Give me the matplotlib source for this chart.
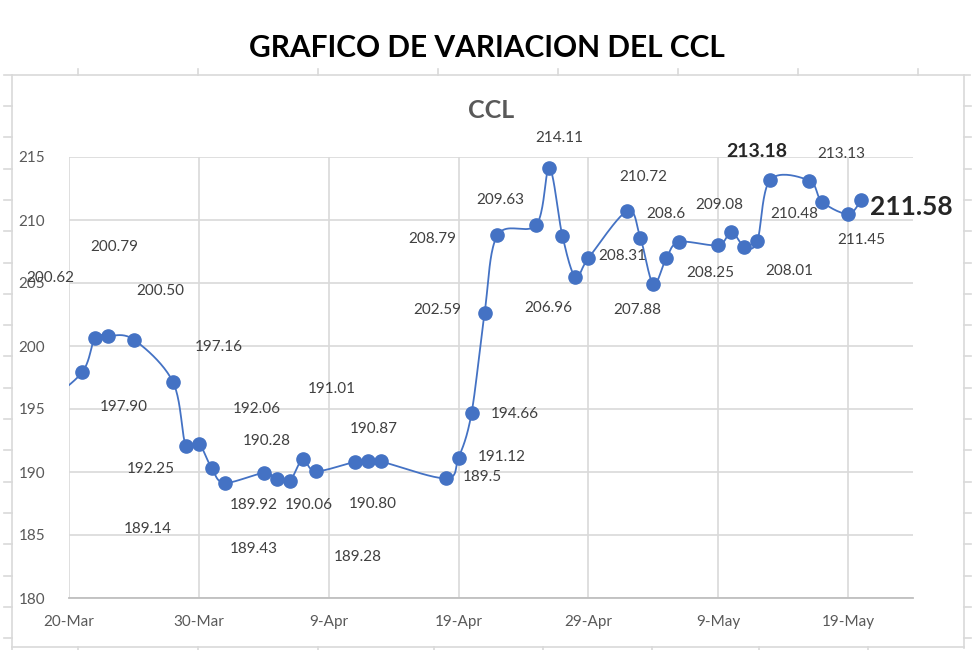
import numpy as np
import pandas as pd
import matplotlib
matplotlib.use("Agg")
import matplotlib.pyplot as plt
import matplotlib.dates as mdates
from matplotlib.ticker import FuncFormatter

plt.rcParams['font.family'] = ['Lato', 'DejaVu Sans']

# CCL quotes (2022)
dates = [
    "2022-03-18", "2022-03-21", "2022-03-22", "2022-03-23", "2022-03-25",
    "2022-03-28", "2022-03-29", "2022-03-30", "2022-03-31", "2022-04-01",
    "2022-04-04", "2022-04-05", "2022-04-06", "2022-04-07", "2022-04-08",
    "2022-04-11", "2022-04-12", "2022-04-13", "2022-04-18", "2022-04-19",
    "2022-04-20", "2022-04-21", "2022-04-22", "2022-04-25", "2022-04-26",
    "2022-04-27", "2022-04-28", "2022-04-29", "2022-05-02", "2022-05-03",
    "2022-05-04", "2022-05-05", "2022-05-06", "2022-05-09", "2022-05-10",
    "2022-05-11", "2022-05-12", "2022-05-13", "2022-05-16", "2022-05-17",
    "2022-05-19", "2022-05-20",
]
ccl = [
    195.3, 197.90, 200.62, 200.79, 200.50,
    197.16, 192.06, 192.25, 190.28, 189.14,
    189.92, 189.43, 189.28, 191.01, 190.06,
    190.80, 190.87, 190.84, 189.50, 191.12,
    194.66, 202.59, 208.79, 209.63, 214.11,
    208.73, 205.48, 206.96, 210.72, 208.60,
    204.92, 206.98, 208.25, 208.01, 209.08,
    207.88, 208.31, 213.18, 213.13, 211.45,
    210.48, 211.58,
]
# data label text shown next to each point ("" = none)
labels = [
    "", "197.90", "200.62", "200.79", "200.50",
    "197.16", "192.06", "192.25", "190.28", "189.14",
    "189.92", "189.43", "189.28", "191.01", "190.06",
    "190.80", "190.87", "", "189.5", "191.12",
    "194.66", "202.59", "208.79", "209.63", "214.11",
    "", "206.96", "208.31", "210.72", "208.6",
    "207.88", "", "", "208.25", "209.08",
    "208.01", "210.48", "213.18", "213.13", "",
    "211.45", "211.58",
]
bold_labels = ["213.18", "211.58"]

# label offsets from the point, in pixels (dx right, dy down)
offsets = [
    (0, 0), (42, 35), (-45, -60), (6, -89), (26, -49),
    (46, -35), (71, -37), (-48, 25), (55, -27), (-77, 46),
    (-10, 32), (-23, 70), (68, 76), (29, -70), (-7, 34),
    (18, 42), (6, -32), (0, 0), (37, -1), (43, -1),
    (43, 1), (-47, -3), (-65, 4), (-36, -25), (10, -30),
    (0, 0), (-27, 31), (34, -2), (16, -34), (26, -24),
    (-16, 26), (0, 0), (0, 0), (-8, 28), (-12, -27),
    (45, 24), (37, -27), (-13, -28), (32, -27), (0, 0),
    (13, 26), (50, 7),
]

x = pd.to_datetime(dates)
xn = mdates.date2num(x)
y = np.array(ccl)


def smooth(xs, ys, n=24):
    # Excel style smoothed line (bezier through the points)
    px = []
    py = []
    last = len(xs) - 1
    for i in range(last):
        i0 = max(i - 1, 0)
        i3 = min(i + 2, last)
        c1x = xs[i] + (xs[i + 1] - xs[i0]) / 6
        c1y = ys[i] + (ys[i + 1] - ys[i0]) / 6
        c2x = xs[i + 1] - (xs[i3] - xs[i]) / 6
        c2y = ys[i + 1] - (ys[i3] - ys[i]) / 6
        t = np.linspace(0, 1, n)
        a, b, c, d = (1 - t) ** 3, 3 * (1 - t) ** 2 * t, 3 * (1 - t) * t ** 2, t ** 3
        px.extend(a * xs[i] + b * c1x + c * c2x + d * xs[i + 1])
        py.extend(a * ys[i] + b * c1y + c * c2y + d * ys[i + 1])
    return np.array(px), np.array(py)


fig = plt.figure(figsize=(9.8, 6.5), dpi=100)

# outer chart frame with its small ticks
bg = fig.add_axes([0, 0, 1, 1])
bg.set_xlim(0, 980)
bg.set_ylim(650, 0)
bg.set_axis_off()
fc = '#d9d9d9'
bg.plot([4, 970], [75, 75], color=fc, lw=1.2)
bg.plot([12, 12], [75, 650], color=fc, lw=1.2)
bg.plot([964, 964], [75, 648], color=fc, lw=1.2)
bg.plot([12, 964], [647, 647], color=fc, lw=1.2)
for tx in range(78, 970, 120):
    bg.plot([tx, tx], [69, 75], color=fc, lw=1.2)
for tx in [78, 198, 318, 434, 543, 652, 759, 868]:
    bg.plot([tx, tx], [647, 652], color=fc, lw=1.2)
for ty in np.arange(106, 650, 31.3):
    bg.plot([4, 12], [ty, ty], color=fc, lw=1.2)
    bg.plot([964, 971], [ty, ty], color=fc, lw=1.2)

fig.text(0.497, 0.926, "GRAFICO DE VARIACION DEL CCL", ha='center', va='center',
         fontsize=21.5, fontweight='bold', color='black')

ax = fig.add_axes([69 / 980, 1 - 598 / 650, (913 - 69) / 980, (598 - 157) / 650])
ax.set_facecolor('none')

sx, sy = smooth(xn, y)
ax.plot(sx, sy, color='#4472c4', lw=1.3, zorder=3)
ax.plot(xn, y, 'o', color='#4472c4', ms=9.5, zorder=4)

for xi, yi, txt, (dx, dy) in zip(xn, y, labels, offsets):
    if txt == "":
        continue
    if txt in bold_labels:
        size = 19 if txt == "211.58" else 14
        ax.annotate(txt, (xi, yi), xytext=(dx, -dy), textcoords='offset pixels',
                    ha='center', va='center', fontsize=size,
                    fontweight='bold', color='#262626', zorder=5)
    else:
        ax.annotate(txt, (xi, yi), xytext=(dx, -dy), textcoords='offset pixels',
                    ha='center', va='center', fontsize=11,
                    color='#404040', zorder=5)

ax.set_xlim(mdates.date2num(pd.Timestamp("2022-03-20")),
            mdates.date2num(pd.Timestamp("2022-05-24")))
ax.set_ylim(180, 215)
ax.set_yticks(np.arange(180, 216, 5))
ax.set_xticks(mdates.date2num(pd.date_range("2022-03-20", "2022-05-24", freq="10D")))


def fmt_date(v, pos):
    d = mdates.num2date(v)
    return f"{d.day}-{d.strftime('%b')}"


ax.xaxis.set_major_formatter(FuncFormatter(fmt_date))
ax.grid(True, color='#d9d9d9', lw=1.2)
ax.set_axisbelow(True)
for s in ['top', 'right', 'left']:
    ax.spines[s].set_visible(False)
ax.spines['bottom'].set_color('#bfbfbf')
ax.spines['bottom'].set_linewidth(1.3)
ax.tick_params(length=0, labelsize=11, labelcolor='#595959')
ax.tick_params(axis='y', pad=17)
ax.tick_params(axis='x', pad=12)

ax.set_title("CCL", fontsize=18, fontweight='bold', color='#595959', pad=28)

fig.savefig("out.png", dpi=100)
